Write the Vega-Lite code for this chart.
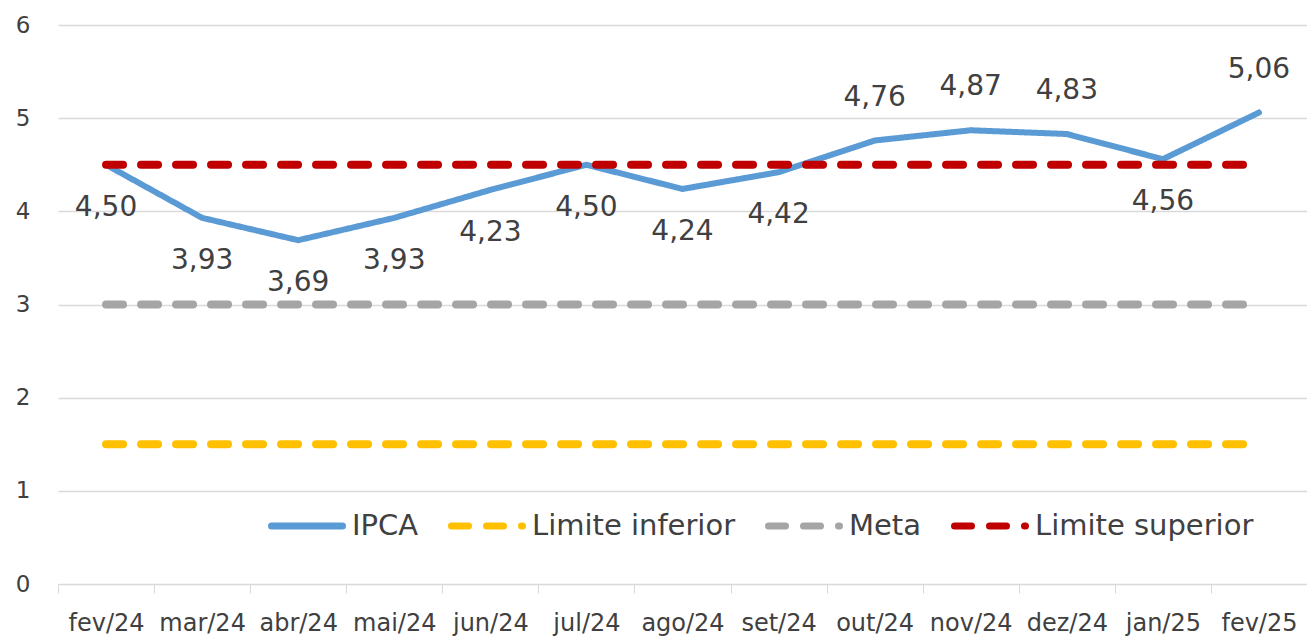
{
  "$schema": "https://vega.github.io/schema/vega-lite/v6.json",
  "width": 1249,
  "height": 559,
  "autosize": {"type": "none"},
  "padding": {"left": 58, "top": 25, "right": 0, "bottom": 52},
  "background": "white",
  "datasets": {
    "d": [
      {"mes": "fev/24", "serie": "IPCA", "valor": 4.50},
      {"mes": "mar/24", "serie": "IPCA", "valor": 3.93},
      {"mes": "abr/24", "serie": "IPCA", "valor": 3.69},
      {"mes": "mai/24", "serie": "IPCA", "valor": 3.93},
      {"mes": "jun/24", "serie": "IPCA", "valor": 4.23},
      {"mes": "jul/24", "serie": "IPCA", "valor": 4.50},
      {"mes": "ago/24", "serie": "IPCA", "valor": 4.24},
      {"mes": "set/24", "serie": "IPCA", "valor": 4.42},
      {"mes": "out/24", "serie": "IPCA", "valor": 4.76},
      {"mes": "nov/24", "serie": "IPCA", "valor": 4.87},
      {"mes": "dez/24", "serie": "IPCA", "valor": 4.83},
      {"mes": "jan/25", "serie": "IPCA", "valor": 4.56},
      {"mes": "fev/25", "serie": "IPCA", "valor": 5.06},
      {"mes": "fev/24", "serie": "Limite inferior", "valor": 1.5},
      {"mes": "mar/24", "serie": "Limite inferior", "valor": 1.5},
      {"mes": "abr/24", "serie": "Limite inferior", "valor": 1.5},
      {"mes": "mai/24", "serie": "Limite inferior", "valor": 1.5},
      {"mes": "jun/24", "serie": "Limite inferior", "valor": 1.5},
      {"mes": "jul/24", "serie": "Limite inferior", "valor": 1.5},
      {"mes": "ago/24", "serie": "Limite inferior", "valor": 1.5},
      {"mes": "set/24", "serie": "Limite inferior", "valor": 1.5},
      {"mes": "out/24", "serie": "Limite inferior", "valor": 1.5},
      {"mes": "nov/24", "serie": "Limite inferior", "valor": 1.5},
      {"mes": "dez/24", "serie": "Limite inferior", "valor": 1.5},
      {"mes": "jan/25", "serie": "Limite inferior", "valor": 1.5},
      {"mes": "fev/25", "serie": "Limite inferior", "valor": 1.5},
      {"mes": "fev/24", "serie": "Meta", "valor": 3},
      {"mes": "mar/24", "serie": "Meta", "valor": 3},
      {"mes": "abr/24", "serie": "Meta", "valor": 3},
      {"mes": "mai/24", "serie": "Meta", "valor": 3},
      {"mes": "jun/24", "serie": "Meta", "valor": 3},
      {"mes": "jul/24", "serie": "Meta", "valor": 3},
      {"mes": "ago/24", "serie": "Meta", "valor": 3},
      {"mes": "set/24", "serie": "Meta", "valor": 3},
      {"mes": "out/24", "serie": "Meta", "valor": 3},
      {"mes": "nov/24", "serie": "Meta", "valor": 3},
      {"mes": "dez/24", "serie": "Meta", "valor": 3},
      {"mes": "jan/25", "serie": "Meta", "valor": 3},
      {"mes": "fev/25", "serie": "Meta", "valor": 3},
      {"mes": "fev/24", "serie": "Limite superior", "valor": 4.5},
      {"mes": "mar/24", "serie": "Limite superior", "valor": 4.5},
      {"mes": "abr/24", "serie": "Limite superior", "valor": 4.5},
      {"mes": "mai/24", "serie": "Limite superior", "valor": 4.5},
      {"mes": "jun/24", "serie": "Limite superior", "valor": 4.5},
      {"mes": "jul/24", "serie": "Limite superior", "valor": 4.5},
      {"mes": "ago/24", "serie": "Limite superior", "valor": 4.5},
      {"mes": "set/24", "serie": "Limite superior", "valor": 4.5},
      {"mes": "out/24", "serie": "Limite superior", "valor": 4.5},
      {"mes": "nov/24", "serie": "Limite superior", "valor": 4.5},
      {"mes": "dez/24", "serie": "Limite superior", "valor": 4.5},
      {"mes": "jan/25", "serie": "Limite superior", "valor": 4.5},
      {"mes": "fev/25", "serie": "Limite superior", "valor": 4.5}
    ]
  },
  "data": {"name": "d"},
  "encoding": {
    "x": {
      "field": "mes",
      "type": "ordinal",
      "title": null,
      "scale": {
        "type": "band",
        "domain": ["fev/24", "mar/24", "abr/24", "mai/24", "jun/24", "jul/24", "ago/24", "set/24", "out/24", "nov/24", "dez/24", "jan/25", "fev/25"],
        "paddingInner": 0,
        "paddingOuter": 0
      },
      "axis": {
        "labelAngle": 0,
        "tickBand": "extent",
        "tickSize": 9,
        "tickColor": "#d9d9d9",
        "domainColor": "#d9d9d9",
        "labelFontSize": 24,
        "labelColor": "#404040",
        "labelPadding": 18,
        "grid": false
      }
    },
    "y": {
      "field": "valor",
      "type": "quantitative",
      "title": null,
      "scale": {"domain": [0, 6], "nice": false, "zero": true},
      "axis": {
        "values": [0, 1, 2, 3, 4, 5, 6],
        "domain": false,
        "ticks": false,
        "gridColor": "#d9d9d9",
        "gridWidth": 1.3,
        "labelFontSize": 23,
        "labelColor": "#404040",
        "labelPadding": 28
      }
    }
  },
  "layer": [
    {
      "transform": [{"filter": "datum.serie === 'IPCA'"}],
      "mark": {"type": "line", "strokeWidth": 6, "strokeCap": "round", "strokeJoin": "round"},
      "encoding": {
        "color": {
          "field": "serie", "type": "nominal", "title": null,
          "scale": {"domain": ["IPCA", "Limite inferior", "Meta", "Limite superior"], "range": ["#5B9BD5", "#FFC000", "#A5A5A5", "#C00000"]},
          "legend": {"encode": {"symbols": {"update": {"strokeCap": {"value": "round"}}}}}
        },
        "strokeDash": {
          "field": "serie", "type": "nominal", "title": null,
          "scale": {"domain": ["IPCA", "Limite inferior", "Meta", "Limite superior"], "range": [[1, 0], [17, 18], [17, 18], [17, 18]]},
          "legend": {"encode": {"symbols": {"update": {"strokeCap": {"value": "round"}}}}}
        }
      }
    },
    {
      "transform": [{"filter": "datum.serie !== 'IPCA'"}],
      "mark": {"type": "line", "strokeWidth": 8, "strokeCap": "round"},
      "encoding": {
        "color": {"field": "serie", "type": "nominal", "title": null},
        "strokeDash": {"field": "serie", "type": "nominal", "title": null}
      }
    },
    {
      "transform": [{"filter": "datum.serie === 'IPCA' && indexof(['out/24','nov/24','dez/24','fev/25'], datum.mes) < 0"}],
      "mark": {"type": "text", "dy": 43, "fontSize": 28, "color": "#404040", "baseline": "middle"},
      "encoding": {"text": {"field": "valor", "type": "quantitative", "format": ".2f"}}
    },
    {
      "transform": [{"filter": "datum.serie === 'IPCA' && indexof(['out/24','nov/24','dez/24','fev/25'], datum.mes) >= 0"}],
      "mark": {"type": "text", "dy": -43, "fontSize": 28, "color": "#404040", "baseline": "middle"},
      "encoding": {"text": {"field": "valor", "type": "quantitative", "format": ".2f"}}
    }
  ],
  "config": {
    "font": "DejaVu Sans",
    "view": {"stroke": null},
    "locale": {"number": {"decimal": ",", "thousands": ".", "grouping": [3], "currency": ["R$", ""]}},
    "legend": {
      "orient": "none",
      "legendX": 210,
      "legendY": 462,
      "direction": "horizontal",
      "labelFontSize": 29,
      "labelColor": "#404040",
      "labelLimit": 500,
      "symbolType": "stroke",
      "symbolSize": 5041,
      "symbolStrokeWidth": 7,
      "labelOffset": 6,
      "columnPadding": 18,
      "padding": 0
    }
  }
}
